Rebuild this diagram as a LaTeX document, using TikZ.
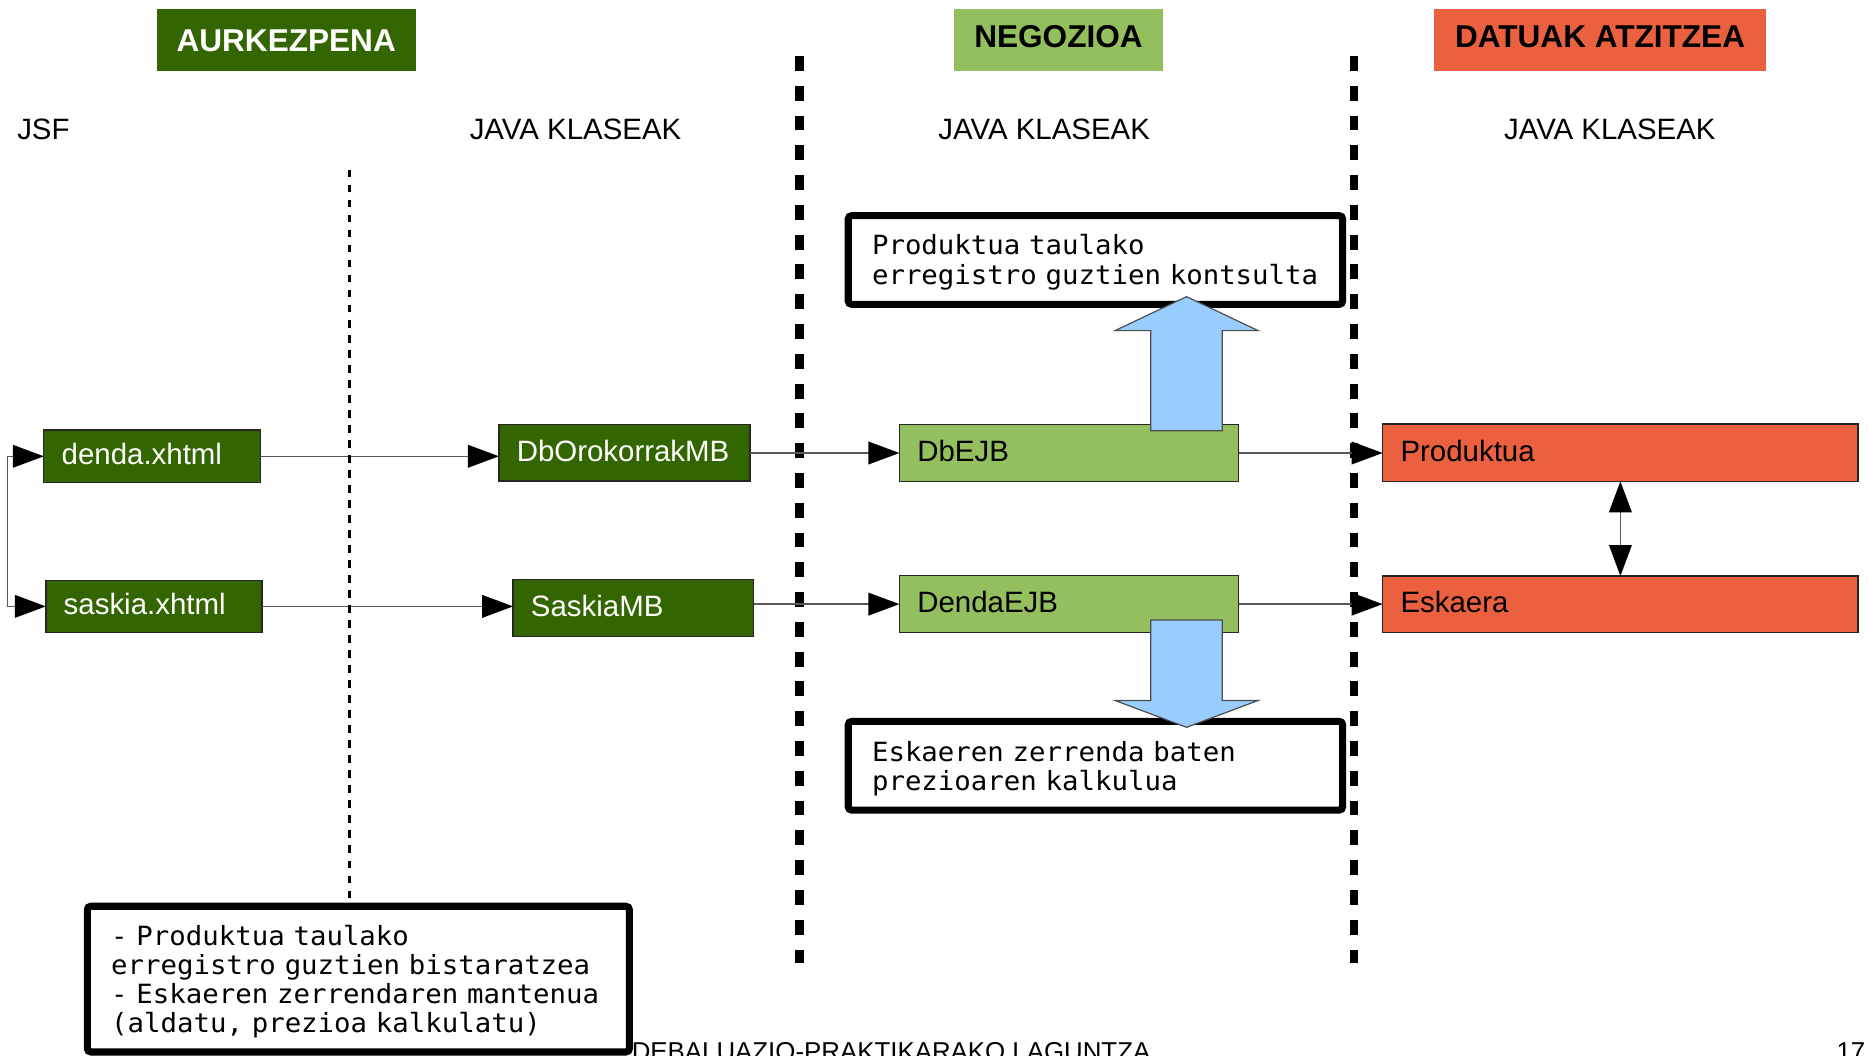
\documentclass[tikz,border=0pt]{standalone}
\usepackage{fontspec}
\setmainfont{Liberation Sans}
\newfontfamily\monof{DejaVu Sans Mono}[FakeStretch=1.035]
\newcommand\notefont{\monof\fontsize{22.2}{24.5}\selectfont}
\usetikzlibrary{arrows.meta}
\definecolor{dkgreen}{HTML}{336600}
\definecolor{ltgreen}{HTML}{94BF5E}
\definecolor{orng}{HTML}{EB6140}
\definecolor{ltblue}{HTML}{99CCFF}
\begin{document}
\begin{tikzpicture}[x=1pt,y=-1pt,
  every node/.style={outer sep=0pt},
  hdr/.style={anchor=north west, inner sep=0pt, font=\fontsize{26.5}{30}\selectfont\bfseries, text depth=0pt},
  sub/.style={anchor=base, inner sep=0pt, font=\fontsize{24.7}{28}\selectfont},
  cls/.style={draw=black!85, line width=1.1pt, anchor=north west, inner xsep=15pt, inner ysep=0pt, align=left, font=\fontsize{24.7}{28}\selectfont, text height=14pt, text depth=0pt},
  notebox/.style={draw=black, line width=6pt, rounded corners=3pt, fill=white, anchor=north west, inner xsep=20pt, inner ysep=0pt, align=left, font=\notefont},
  conn/.style={draw=black!65, line width=1.3pt},
  tri/.tip={Triangle[length=26pt,width=19pt,color=black,fill=black]},
  sep/.style={draw=black, line width=7pt, dash pattern=on 12.5pt off 12.5pt},
  dotl/.style={draw=black, line width=2.5pt, dash pattern=on 6.2pt off 6.4pt},
  fat/.style={draw=black!70, line width=1pt, fill=ltblue},
  foot/.style={anchor=base west, inner sep=0pt, font=\fontsize{21.7}{24}\selectfont}
]
\clip (0,0) rectangle (1568,886);
\fill[white] (0,0) rectangle (1568,886);

% separators
\coordinate (s1t) at (671,47);
\coordinate (s1b) at (671,808);
\coordinate (s2t) at (1136.3,47);
\coordinate (s2b) at (1136.3,808);
\draw[sep] (s1t) -- (s1b);
\draw[sep] (s2t) -- (s2b);

% headers
\node[hdr, fill=dkgreen, text=white, minimum width=217.5pt, minimum height=51.5pt, text height=19.7pt] (aurk) at (131.5,7.8) {AURKEZPENA};
\node[hdr, fill=ltgreen, text=black, minimum width=175pt, minimum height=51.5pt, text height=13.5pt] (nego) at (801,7.7) {NEGOZIOA};
\node[hdr, fill=orng, text=black, minimum width=278.8pt, minimum height=51.5pt, text height=13pt] (datu) at (1203.7,7.7) {DATUAK ATZITZEA};

\node[anchor=base west, inner sep=0pt, font=\fontsize{24.7}{28}\selectfont] (jsf) at (14.5,117.3) {JSF};
\node[sub] (jk1) at (483.1,117.3) {JAVA KLASEAK};
\node[sub] (jk2) at (876.5,117.3) {JAVA KLASEAK};
\node[sub] (jk3) at (1351.3,117.3) {JAVA KLASEAK};

% class nodes
\node[cls, fill=dkgreen, text=white, text width=151.6pt, minimum height=44pt] (denda) at (36.8,361) {denda.xhtml};
\node[cls, fill=dkgreen, text=white, text width=151.5pt, minimum height=44pt] (saskia) at (38.5,487) {saskia.xhtml};
\node[cls, fill=dkgreen, text=white, text width=180.8pt, minimum height=47.6pt] (dborok) at (418.8,356.2) {DbOrokorrakMB};
\node[cls, fill=dkgreen, text=white, text width=171.9pt, minimum height=48.1pt] (saskiamb) at (430.7,486.3) {SaskiaMB};
\node[cls, fill=ltgreen, text width=254.6pt, minimum height=48.1pt] (dbejb) at (755,356.2) {DbEJB};
\node[cls, fill=ltgreen, text width=254.6pt, minimum height=47.8pt] (dendaejb) at (755,483.2) {DendaEJB};
\node[cls, fill=orng, text width=369.1pt, minimum height=48pt] (produktua) at (1160.6,356) {Produktua};
\node[cls, fill=orng, text width=369.1pt, minimum height=47.5pt] (eskaera) at (1160.6,483.5) {Eskaera};

% connectors
\draw[conn, tri-tri] (denda.west) -- ++(-30.4,0) |- (saskia.west);
\draw[conn, -tri] (denda.east) -- (dborok.west |- denda.east);
\draw[conn, -tri] (saskia.east) -- (saskiamb.west |- saskia.east);
\draw[conn, -tri] (dborok.east |- dbejb.west) -- (dbejb.west);
\draw[conn, -tri] (saskiamb.east |- dendaejb.west) -- (dendaejb.west);
\draw[conn, -tri] (dbejb.east) -- (produktua.west |- dbejb.east);
\draw[conn, -tri] (dendaejb.east) -- (eskaera.west |- dendaejb.east);
\draw[conn, tri-tri] (produktua.south) -- (eskaera.north);

% footer (partly covered)
\node[foot] (footer) at (530.3,890) {DEBALUAZIO-PRAKTIKARAKO LAGUNTZA};
\node[foot] (pagenum) at (1541.6,890) {17};

% note boxes
\node[notebox, text width=375pt, minimum height=74.5pt, text height=33pt, text depth=41.5pt] (note1) at (712,181)
  {\mbox{Produktua taulako}\\\mbox{erregistro guztien kontsulta}};
\node[notebox, text width=375pt, minimum height=74.5pt, text height=33.9pt, text depth=40.6pt] (note2) at (712,605.5)
  {\mbox{Eskaeren zerrenda baten}\\\mbox{prezioaren kalkulua}};
\node[notebox, text width=415pt, minimum height=122.3pt, text height=32.8pt, text depth=89.5pt] (note3) at (73.3,760.7)
  {\mbox{- Produktua taulako}\\\mbox{erregistro guztien bistaratzea}\\\mbox{- Eskaeren zerrendaren mantenua}\\\mbox{(aldatu, prezioa kalkulatu)}};

% dotted divider
\coordinate (dtop) at (293.5,142.7);
\draw[dotl] (dtop) -- (dtop |- note3.north);

% fat blue arrows
\draw[fat] (966,361.5) -- (966,277.5) -- (936,277.5) -- (996,249) -- (1056,277.5) -- (1026,277.5) -- (1026,361.5) -- cycle;
\draw[fat] (966,520.4) -- (966,588) -- (936,588) -- (996,610.5) -- (1056,588) -- (1026,588) -- (1026,520.4) -- cycle;
\end{tikzpicture}
\end{document}
